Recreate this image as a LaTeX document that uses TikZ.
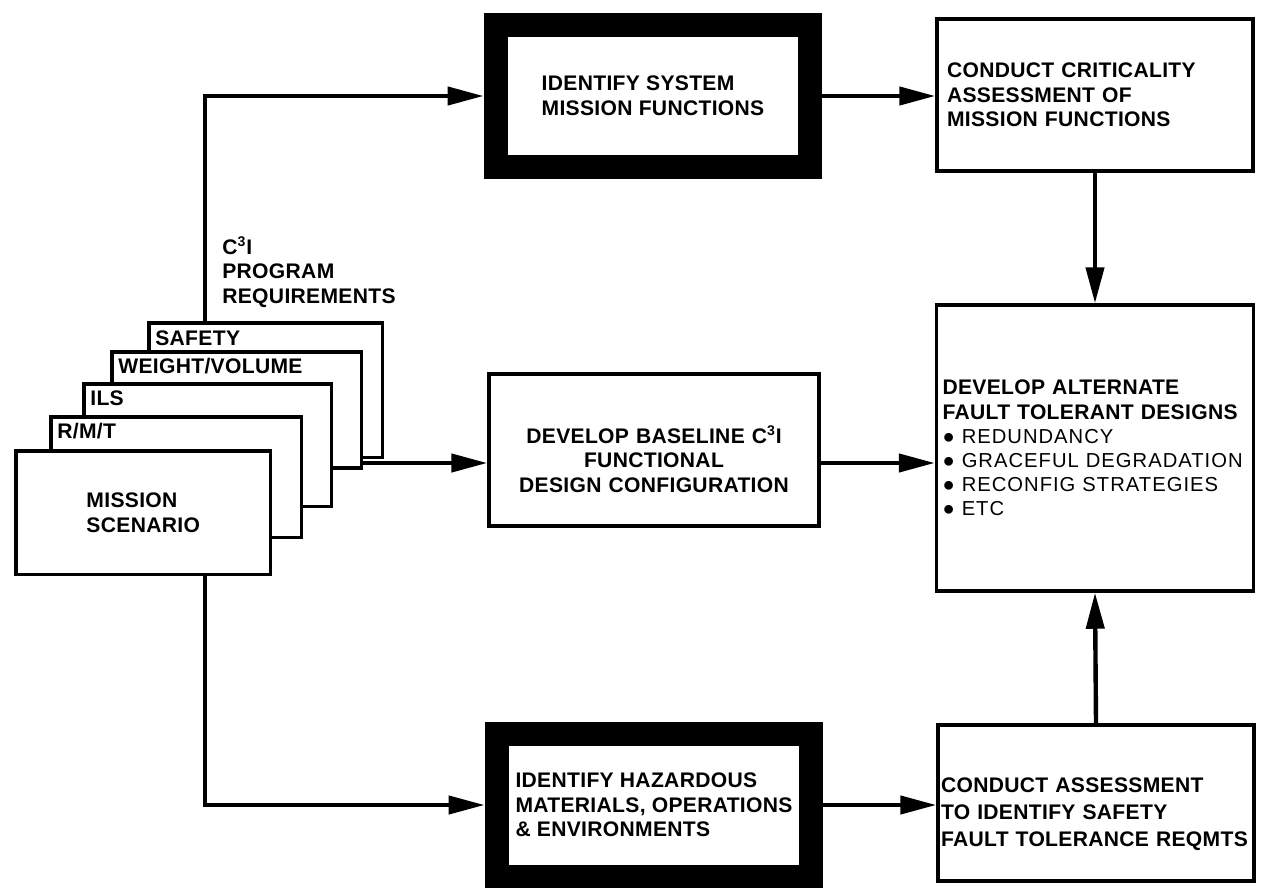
\documentclass[tikz,border=0pt]{standalone}
\usepackage{fontspec}
\setmainfont{Liberation Sans}[LetterSpace=1.5]
\usetikzlibrary{arrows.meta}

\begin{document}
\hyphenpenalty=10000
\begin{tikzpicture}[x=0.02cm, y=-0.02cm,
  font=\fontsize{12}{14}\selectfont\bfseries,
  box/.style={draw, line width=2pt, align=left, text width=5.92cm,
    inner xsep=0.2cm, minimum height=3.04cm},
  heavy/.style={draw, line width=0.48cm, align=left, minimum width=6.3cm,
    minimum height=2.86cm},
  card/.style={draw, fill=white, line width=2pt, anchor=north west, inner sep=0pt},
  tab/.style={anchor=west, inner sep=0pt},
  flow/.style={line width=2.5pt, -{Triangle[length=0.72cm, width=0.36cm]}}]

  \useasboundingbox (0,0) rectangle (1262,890);

  % stack of inputs, back to front
  \node[card, minimum width=4.68cm, minimum height=2.7cm]  (safety) at (147,321) {};
  \node[tab] (safetytxt) at (155,338) {SAFETY};
  \node[card, minimum width=5cm, minimum height=2.32cm]    (weight) at (110,350) {};
  \node[tab] (weighttxt) at (118,366) {WEIGHT/VOLUME};
  \node[card, minimum width=4.96cm, minimum height=2.46cm] (ils) at (82,382) {};
  \node[tab] (ilstxt) at (90,398) {ILS};
  \node[card, minimum width=5.02cm, minimum height=2.42cm] (rmt) at (49,415) {};
  \node[tab] (rmttxt) at (57,431) {R/M/T};
  \node[card, minimum width=5.1cm, minimum height=2.48cm, align=left] (mission) at (14,449)
    {MISSION\\SCENARIO};

  \node[tab, align=left] (progreq) at (222,272)
    {C\textsuperscript{3}I\\PROGRAM\\REQUIREMENTS};

  % process boxes
  \node[heavy] (ident) at (653,96) {IDENTIFY SYSTEM\\MISSION FUNCTIONS};
  \node[box] (crit) at (1095,95)
    {CONDUCT CRITICALITY\\ASSESSMENT OF\\MISSION FUNCTIONS};
  \node[box, align=center, text width=6.2cm] (base) at (654,450)
    {\rule{0pt}{0.72cm}DEVELOP BASELINE C\textsuperscript{3}I\\FUNCTIONAL\\DESIGN CONFIGURATION};
  \node[box, minimum height=5.72cm, text width=6.1cm, inner xsep=0.12cm] (alt) at (1095,448)
    {DEVELOP ALTERNATE\\FAULT TOLERANT DESIGNS\\
     {\mdseries\fontsize{11.5}{13.6}\selectfont\addfontfeature{LetterSpace=5}%
      ● REDUNDANCY\\● GRACEFUL DEGRADATION\\● RECONFIG STRATEGIES\\● ETC}};
  \node[heavy] (hazard) at (654,805)
    {IDENTIFY HAZARDOUS\\MATERIALS, OPERATIONS\\\& ENVIRONMENTS};
  \node[box, inner xsep=0.06cm, text width=6.2cm, minimum height=3.12cm,
    font=\fontsize{12}{15.5}\selectfont\bfseries] (assess) at (1096,803)
    {\rule{0pt}{0.75cm}CONDUCT ASSESSMENT\\TO IDENTIFY SAFETY\\FAULT TOLERANCE REQMTS};

  % connectors
  \coordinate (up) at (205,321);
  \coordinate (stackout) at (360,463);
  \draw[flow] (up) |- (ident.west);
  \draw[flow] (stackout) -- (stackout -| base.west);
  \draw[flow] (mission.south -| up) |- (hazard.west);
  \draw[flow] (ident.east) -- (ident.east -| crit.west);
  \draw[flow] (base.east |- stackout) -- (alt.west |- stackout);
  \draw[flow] (hazard.east) -- (hazard.east -| assess.west);
  \draw[flow] (crit.south) -- (alt.north);
  \draw[flow] (assess.north) -- (alt.south);
\end{tikzpicture}
\end{document}
